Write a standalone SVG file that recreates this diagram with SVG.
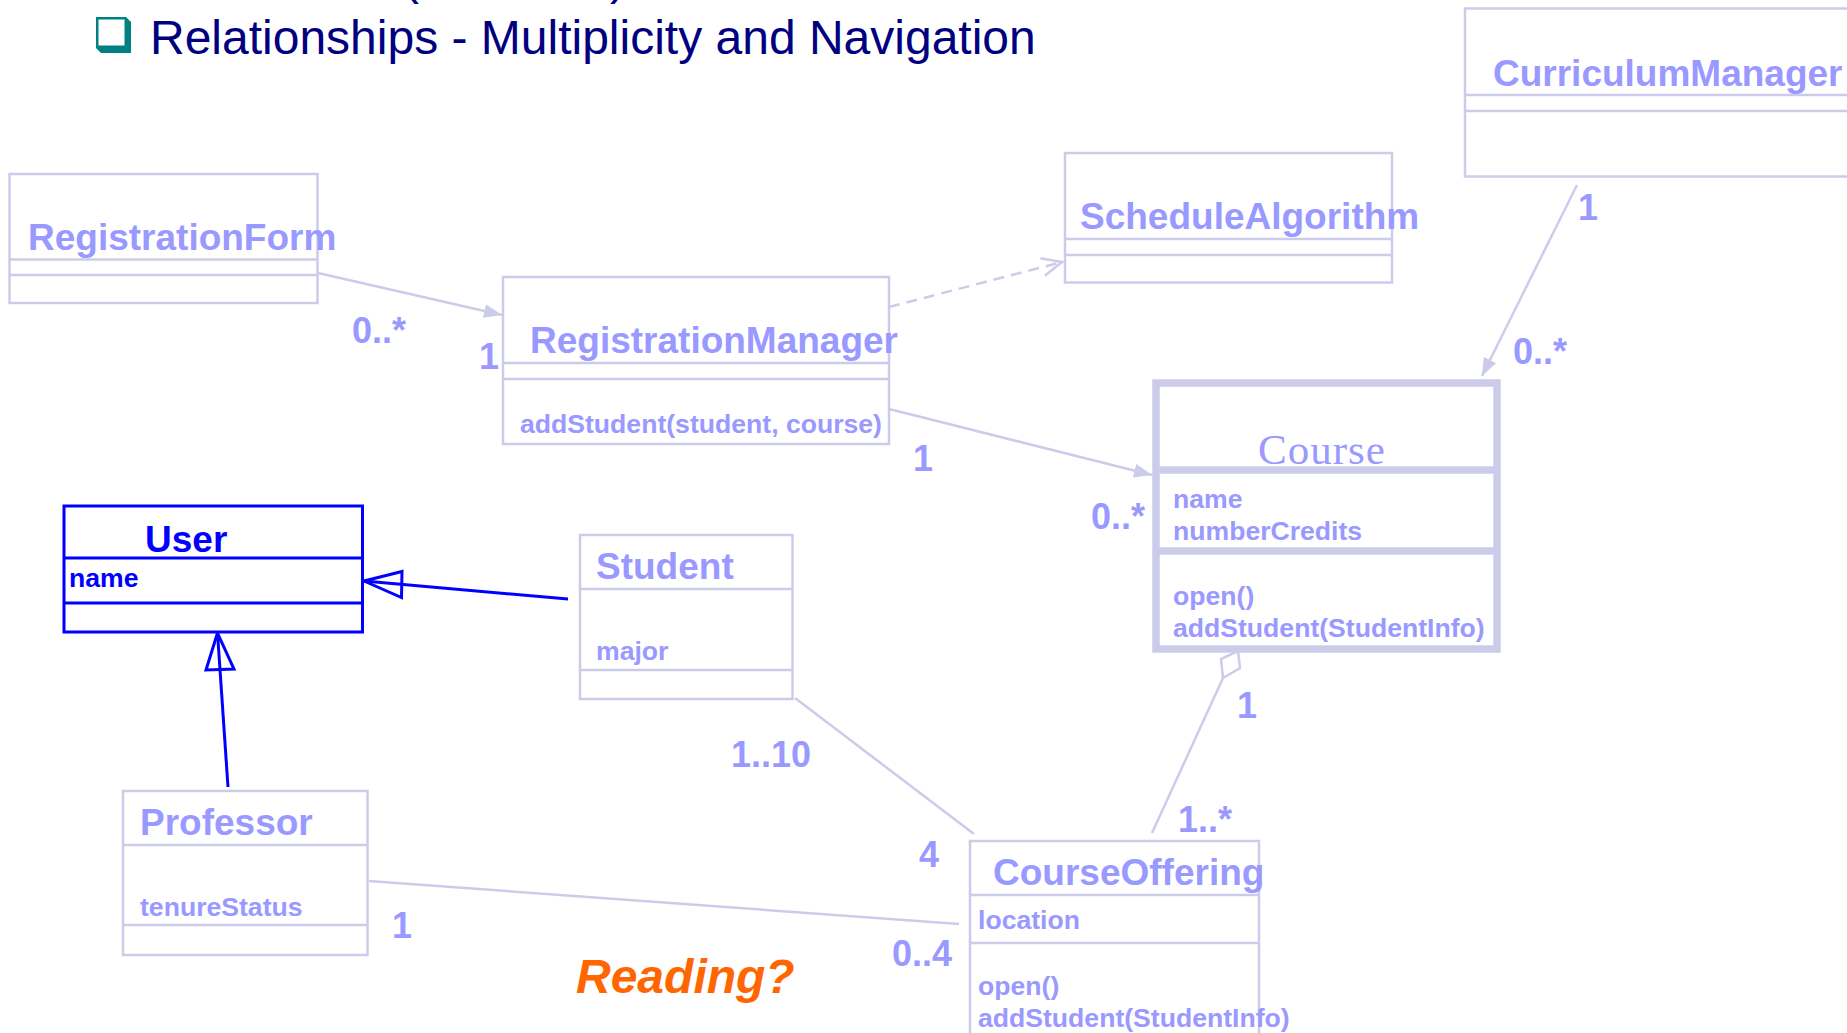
<svg xmlns="http://www.w3.org/2000/svg" width="1847" height="1033" viewBox="0 0 1847 1033">
<style>
.bg{fill:#ffffff}
.box{fill:#ffffff;stroke:#ccccea;stroke-width:2.5}
.ln{fill:none;stroke:#ccccea;stroke-width:2.5}
.thick{fill:#ffffff;stroke:#ccccea;stroke-width:7.5}
.thln{fill:none;stroke:#ccccea;stroke-width:7.5}
.cls{font-family:"Liberation Sans",Arial,sans-serif;font-weight:bold;font-size:37px;fill:#9999ff}
.mem{font-family:"Liberation Sans",Arial,sans-serif;font-weight:bold;font-size:26.6px;fill:#9999ff}
.mult{font-family:"Liberation Sans",Arial,sans-serif;font-weight:bold;font-size:36px;fill:#9999ff}
.serif{font-family:"Liberation Serif","Times New Roman",serif;font-size:43px;fill:#9999ff}
.ubox{fill:#ffffff;stroke:#0000ff;stroke-width:3}
.uln{fill:none;stroke:#0000ff;stroke-width:3}
.utxt{font-family:"Liberation Sans",Arial,sans-serif;font-weight:bold;fill:#0000ff}
.title{font-family:"Liberation Sans",Arial,sans-serif;font-size:48px;fill:#000080}
.conn{fill:none;stroke:#ccccea;stroke-width:2.5}
.dash{stroke-dasharray:11 7}
</style>
<defs>
<marker id="fill" markerUnits="userSpaceOnUse" markerWidth="20" markerHeight="16" refX="18" refY="7" orient="auto">
<path d="M0,0 L18,7 L0,14 z" fill="#ccccea"/>
</marker>
<marker id="open" markerUnits="userSpaceOnUse" markerWidth="24" markerHeight="22" refX="21" refY="10" orient="auto">
<path d="M1,1 L21,10 L1,19" fill="none" stroke="#ccccea" stroke-width="2.5"/>
</marker>
</defs>
<rect class="bg" x="0" y="0" width="1847" height="1033"/>

<g id="title">
<text class="title" x="403" y="-6">(</text>
<text class="title" x="610" y="-6">),</text>
<path d="M126,17 L131,22 L131,53 L101,53 L96,48 L96,17 Z" fill="#008080"/>
<rect x="98.5" y="19.5" width="26" height="26" fill="#ffffff"/>
<text class="title" x="150" y="54">Relationships - Multiplicity and Navigation</text>
</g>

<g id="connectors">
<line class="conn" x1="318" y1="273" x2="502" y2="315" marker-end="url(#fill)"/>
<line class="conn dash" x1="889" y1="307" x2="1062" y2="262" marker-end="url(#open)"/>
<line class="conn" x1="889" y1="409" x2="1152" y2="475" marker-end="url(#fill)"/>
<line class="conn" x1="1577" y1="185" x2="1482" y2="376" marker-end="url(#fill)"/>
<polygon points="1238,651 1240,668 1223,678 1221,659" fill="#ffffff" stroke="#ccccea" stroke-width="2.5"/>
<line class="conn" x1="1223" y1="678" x2="1152" y2="833"/>
<line class="conn" x1="795" y1="698" x2="974" y2="834"/>
<line class="conn" x1="369" y1="881" x2="959" y2="924"/>
<line class="uln" x1="568" y1="599" x2="364" y2="581"/>
<polygon points="364,581 402,571.5 401.5,597.5" fill="none" stroke="#0000ff" stroke-width="3"/>
<line class="uln" x1="228" y1="787" x2="217.5" y2="633"/>
<polygon points="217.5,633 234,669 206,670" fill="none" stroke="#0000ff" stroke-width="3"/>
</g>

<g id="labels">
<text class="mult" x="352" y="343">0..*</text>
<text class="mult" x="479" y="369">1</text>
<text class="mult" x="913" y="471">1</text>
<text class="mult" x="1091" y="529">0..*</text>
<text class="mult" x="1578" y="220">1</text>
<text class="mult" x="1513" y="364">0..*</text>
<text class="mult" x="1237" y="718">1</text>
<text class="mult" x="1178" y="832">1..*</text>
<text class="mult" x="731" y="767">1..10</text>
<text class="mult" x="919" y="867">4</text>
<text class="mult" x="392" y="938">1</text>
<text class="mult" x="892" y="966">0..4</text>
<text x="576" y="993" font-family="'Liberation Sans',Arial,sans-serif" font-weight="bold" font-style="italic" font-size="48" fill="#ff6600">Reading?</text>
</g>

<g id="RegistrationForm">
<rect class="box" x="9.5" y="174" width="308" height="129"/>
<line class="ln" x1="9.5" y1="259.5" x2="317.5" y2="259.5"/>
<line class="ln" x1="9.5" y1="275" x2="317.5" y2="275"/>
<text class="cls" x="28" y="250">RegistrationForm</text>
</g>

<g id="RegistrationManager">
<rect class="box" x="503" y="277" width="386" height="167"/>
<line class="ln" x1="503" y1="363" x2="889" y2="363"/>
<line class="ln" x1="503" y1="379" x2="889" y2="379"/>
<text class="cls" x="530" y="353">RegistrationManager</text>
<text class="mem" x="520" y="433">addStudent(student, course)</text>
</g>

<g id="ScheduleAlgorithm">
<rect class="box" x="1065" y="153" width="327" height="129.5"/>
<line class="ln" x1="1065" y1="239" x2="1392" y2="239"/>
<line class="ln" x1="1065" y1="255" x2="1392" y2="255"/>
<text class="cls" x="1080" y="229">ScheduleAlgorithm</text>
</g>

<g id="CurriculumManager">
<rect class="box" x="1465" y="8.5" width="400" height="168"/>
<line class="ln" x1="1465" y1="95" x2="1865" y2="95"/>
<line class="ln" x1="1465" y1="111" x2="1865" y2="111"/>
<text class="cls" x="1493" y="86">CurriculumManager</text>
</g>

<g id="Course">
<rect class="thick" x="1156" y="383" width="341" height="266"/>
<line class="thln" x1="1156" y1="470" x2="1497" y2="470"/>
<line class="thln" x1="1156" y1="551" x2="1497" y2="551"/>
<text class="serif" x="1258" y="464" letter-spacing="1">Course</text>
<text class="mem" x="1173" y="508">name</text>
<text class="mem" x="1173" y="540">numberCredits</text>
<text class="mem" x="1173" y="605">open()</text>
<text class="mem" x="1173" y="637">addStudent(StudentInfo)</text>
</g>

<g id="User">
<rect class="ubox" x="64" y="506" width="298.5" height="126"/>
<line class="uln" x1="64" y1="558" x2="362.5" y2="558"/>
<line class="uln" x1="64" y1="603" x2="362.5" y2="603"/>
<text class="utxt" x="145" y="552" font-size="37">User</text>
<text class="utxt" x="69" y="587" font-size="26.6">name</text>
</g>

<g id="Student">
<rect class="box" x="580" y="535" width="212.5" height="164"/>
<line class="ln" x1="580" y1="589" x2="792.5" y2="589"/>
<line class="ln" x1="580" y1="670" x2="792.5" y2="670"/>
<text class="cls" x="596" y="579">Student</text>
<text class="mem" x="596" y="660">major</text>
</g>

<g id="Professor">
<rect class="box" x="123" y="791" width="244.5" height="164"/>
<line class="ln" x1="123" y1="845" x2="367.5" y2="845"/>
<line class="ln" x1="123" y1="925" x2="367.5" y2="925"/>
<text class="cls" x="140" y="835">Professor</text>
<text class="mem" x="140" y="916">tenureStatus</text>
</g>

<g id="CourseOffering">
<rect class="box" x="970" y="841" width="289" height="210"/>
<line class="ln" x1="970" y1="895" x2="1259" y2="895"/>
<line class="ln" x1="970" y1="943" x2="1259" y2="943"/>
<text class="cls" x="993" y="885">CourseOffering</text>
<text class="mem" x="978" y="929">location</text>
<text class="mem" x="978" y="995">open()</text>
<text class="mem" x="978" y="1027">addStudent(StudentInfo)</text>
</g>
</svg>
